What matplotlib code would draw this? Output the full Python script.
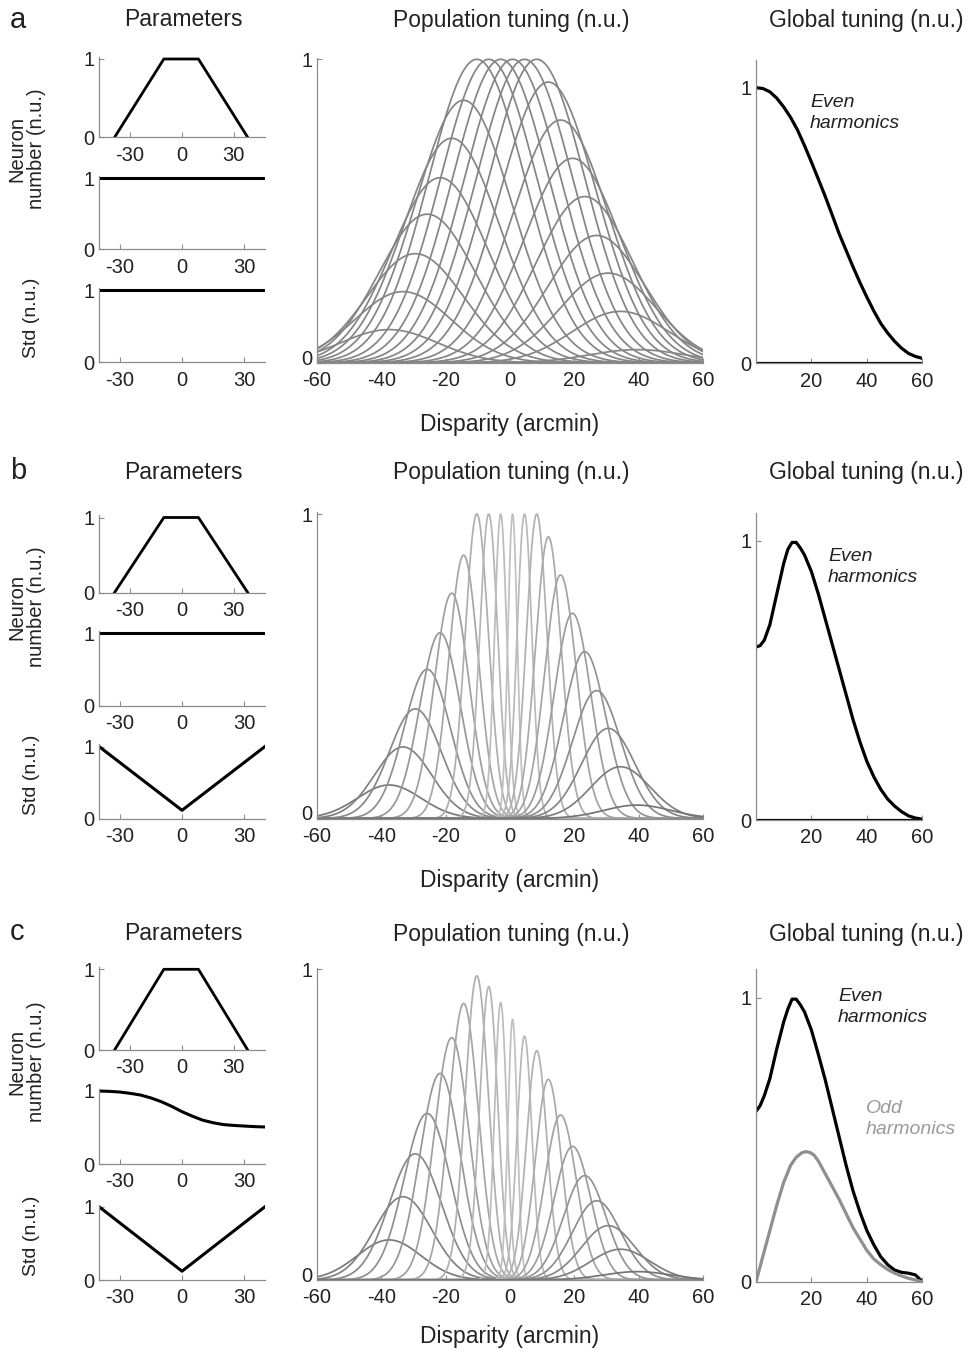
import numpy as np
import matplotlib
matplotlib.use("Agg")
import matplotlib.pyplot as plt
from matplotlib.transforms import ScaledTranslation

plt.rcParams["font.family"] = ["Liberation Sans", "DejaVu Sans"]
plt.rcParams["axes.unicode_minus"] = False

W, H = 974, 1355
SPINE = "#8c8c8c"
TXT = "#222222"

# ---------------- data ----------------
# parameter panels (x in arcmin, y in n.u.)
trap_x = [-39, -10.5, 9.5, 38]
trap_y = [0, 1, 1, 0]
flat_x = [-40, 40]
flat_y = [1, 1]
std_v_x = [-40, 0, 40]
std_v_y = [1, 0.12, 1]
nn_c_x = [-40, -35, -30, -25, -20, -15, -10, -5, 0, 5, 10, 15, 20, 25, 30, 35, 40]
nn_c_y = [1.0, 0.995, 0.986, 0.968, 0.945, 0.905, 0.854, 0.79, 0.717, 0.655,
          0.60, 0.565, 0.54, 0.528, 0.52, 0.512, 0.507]

# population tuning: preferred disparities, peak heights, widths
centers = [-37.5, -33.2, -29.4, -25.7, -21.7, -18.1, -14.4, -10.3, -6.6, -2.9, 0.8,
           4.5, 8.3, 11.9, 15.7, 19.4, 23.2, 26.9, 30.5, 34.3, 39.5]
amp_ab = [0.11, 0.235, 0.36, 0.49, 0.61, 0.74, 0.865, 1, 1, 1, 1,
          1, 1, 0.925, 0.80, 0.674, 0.548, 0.42, 0.296, 0.17, 0.044]
amp_c = [0.129, 0.268, 0.406, 0.536, 0.665, 0.78, 0.89, 0.979, 0.944, 0.893, 0.839,
         0.785, 0.738, 0.646, 0.531, 0.43, 0.336, 0.255, 0.175, 0.099, 0.027]
sigma_a = [15.0] * 21
sigma_bc = [9.9, 8.9, 8.1, 7.2, 6.3, 5.4, 4.6, 3.6, 2.8, 1.9, 1.45,
            2.3, 3.2, 4.0, 4.9, 5.7, 6.6, 7.5, 8.3, 9.2, 10.4]

# global tuning
ga_x = [0, 2.5, 5, 7.5, 10, 12.5, 15, 17.5, 20, 22.5, 25, 27.5, 30, 32.5, 35, 37.5,
        40, 42.5, 45, 47.5, 50, 52.5, 55, 57.5, 60]
even_a = [1.0, 0.997, 0.985, 0.962, 0.93, 0.892, 0.846, 0.79, 0.73, 0.668, 0.605,
          0.538, 0.47, 0.41, 0.35, 0.293, 0.24, 0.19, 0.145, 0.11, 0.08, 0.055,
          0.036, 0.025, 0.018]
odd_a = [0.0, 0.0]
odd_a_x = [0, 60]

gb_x = [0, 1.5, 3, 5, 7.5, 10, 11.5, 13, 14.5, 16, 17.5, 20, 22.5, 25, 27.5, 30,
        32.5, 35, 37.5, 40, 42.5, 45, 47.5, 50, 52.5, 55, 57.5, 60]
even_b = [0.62, 0.625, 0.645, 0.70, 0.81, 0.92, 0.97, 0.995, 0.995, 0.975, 0.95,
          0.89, 0.81, 0.72, 0.63, 0.54, 0.45, 0.36, 0.28, 0.21, 0.155, 0.11, 0.075,
          0.05, 0.03, 0.015, 0.007, 0.003]
odd_b = [0.0, 0.0]
odd_b_x = [0, 60]

gc_x = [0, 1.5, 3, 5, 7.5, 10, 11.5, 13, 14.5, 16, 17.5, 20, 22.5, 25, 27.5, 30,
        32.5, 35, 37.5, 40, 42.5, 45, 47.5, 50, 52.5, 55, 57.5, 60]
even_c = [0.60, 0.62, 0.655, 0.715, 0.82, 0.915, 0.96, 0.995, 0.995, 0.975, 0.95,
          0.886, 0.80, 0.71, 0.61, 0.51, 0.41, 0.32, 0.245, 0.18, 0.13, 0.088, 0.06,
          0.041, 0.033, 0.03, 0.024, 0.0]
gco_x = [0, 2.5, 5, 7.5, 10, 12.5, 14.5, 16.5, 18, 19.5, 21, 22.5, 25, 27.5, 30,
         32.5, 35, 37.5, 40, 42.5, 45, 47.5, 50, 52.5, 55, 57.5, 60]
odd_c = [0.0, 0.09, 0.18, 0.27, 0.35, 0.41, 0.438, 0.454, 0.458, 0.455, 0.445,
         0.425, 0.38, 0.335, 0.29, 0.24, 0.19, 0.15, 0.11, 0.08, 0.06, 0.043, 0.03,
         0.02, 0.012, 0.006, 0.0]

fig = plt.figure(figsize=(W / 100, H / 100), dpi=100)


def place(x_lo, x_hi, y0, y1, ytop):
    """axes box from pixel positions of x-limits and of y=0 / y=1"""
    scale = y0 - y1
    top = y0 - ytop * scale
    return fig.add_axes([x_lo / W, 1 - y0 / H, (x_hi - x_lo) / W, (y0 - top) / H])


def style(ax, xlim, ylim, xticks, yticks=(0, 1)):
    ax.set_xlim(*xlim)
    ax.set_ylim(*ylim)
    for s in ("top", "right"):
        ax.spines[s].set_visible(False)
    for s in ("left", "bottom"):
        ax.spines[s].set_color(SPINE)
        ax.spines[s].set_linewidth(0.9)
    ax.set_xticks(xticks)
    ax.set_yticks(yticks)
    ax.set_yticklabels([str(v) for v in yticks])
    ax.tick_params(direction="in", length=3.5, width=0.8, color=SPINE,
                   labelsize=14.5, labelcolor=TXT)
    ax.tick_params(axis="x", pad=6)
    ax.tick_params(axis="y", pad=3)


def gauss(x, c, a, s):
    return a * np.exp(-(x - c) ** 2 / (2 * s ** 2))


xd = np.linspace(-60, 60, 1201)

rows = [
    dict(letter="a", nn=(flat_x, flat_y), std=(flat_x, flat_y), amp=amp_ab,
         sig=sigma_a, even=(ga_x, even_a), odd=(odd_a_x, odd_a), odd_col="black",
         params=[(137.3, 59), (249.3, 178.3), (362.3, 290)],
         pop=(363, 59.3), glob=(363.3, 87.7), title_y=20, letter_y=20, disp_y=425),
    dict(letter="b", nn=(flat_x, flat_y), std=(std_v_x, std_v_y), amp=amp_ab,
         sig=sigma_bc, even=(gb_x, even_b), odd=(odd_b_x, odd_b), odd_col="black",
         params=[(592.5, 517.5), (705.5, 633), (819, 746.5)],
         pop=(818.5, 514), glob=(820, 541), title_y=473, letter_y=471, disp_y=880),
    dict(letter="c", nn=(nn_c_x, nn_c_y), std=(std_v_x, std_v_y), amp=amp_c,
         sig=sigma_bc, even=(gc_x, even_c), odd=(gco_x, odd_c), odd_col="#8f8f8f",
         params=[(1050, 969.3), (1164, 1091), (1280, 1206.7)],
         pop=(1280, 969.3), glob=(1281.7, 997.7), title_y=934, letter_y=932, disp_y=1337),
]

for r in rows:
    # ---- parameter panels ----
    p1 = place(99, 265, *r["params"][0], 1.03)
    p1.plot(trap_x, trap_y, color="black", lw=2)
    style(p1, (-48, 48), (0, 1.03), [-30, 0, 30])

    p2 = place(99, 265, *r["params"][1], 1.03)
    p2.plot(*r["nn"], color="black", lw=2.2)
    style(p2, (-40, 40), (0, 1.03), [-30, 0, 30])

    p3 = place(99, 265, *r["params"][2], 1.03)
    p3.plot(*r["std"], color="black", lw=2.2)
    style(p3, (-40, 40), (0, 1.03), [-30, 0, 30])

    mid12 = (r["params"][0][1] + r["params"][1][0]) / 2 - 5
    fig.text(27 / W, 1 - mid12 / H, "Neuron\nnumber (n.u.)", rotation=90,
             ha="center", va="center", fontsize=14.5, color=TXT, linespacing=1.05)
    mid3 = (r["params"][2][0] + r["params"][2][1]) / 2 - 8
    fig.text(32 / W, 1 - mid3 / H, "Std (n.u.)", rotation=90,
             ha="center", va="center", fontsize=14, color=TXT)

    # ---- population tuning ----
    pp = place(316.7, 703.3, *r["pop"], 1.005)
    pp.plot(xd, np.zeros_like(xd), color="#8a8a8a", lw=2.2)
    for c, a, s in zip(centers, r["amp"], r["sig"]):
        if r["letter"] == "a":
            g = 0.52
        else:
            g = min(0.76, 0.80 - 0.033 * s)
        pp.plot(xd, gauss(xd, c, a, s), color=(g, g, g), lw=1.25)
    style(pp, (-60, 60), (0, 1.005), [-60, -40, -20, 0, 20, 40, 60])
    # lift the "0" a touch so it clears the "-60" below it
    lab0 = pp.get_yticklabels()[0]
    lab0.set_transform(lab0.get_transform()
                       + ScaledTranslation(0, 4 / 72, fig.dpi_scale_trans))

    # ---- global tuning ----
    gp = place(756, 922.3, *r["glob"], 1.1)
    gp.plot(*r["even"], color="black", lw=2.3, solid_joinstyle="round")
    gp.plot(*r["odd"], color=r["odd_col"], lw=2.3 if r["letter"] == "c" else 1.6,
            solid_joinstyle="round")
    style(gp, (0, 60), (0, 1.1), [20, 40, 60])

    # ---- texts ----
    fig.text(10 / W, 1 - r["letter_y"] / H, r["letter"], fontsize=21, color=TXT,
             ha="left", va="center")
    fig.text(183 / W, 1 - r["title_y"] / H, "Parameters", fontsize=16.5,
             color=TXT, ha="center", va="center")
    fig.text(511 / W, 1 - r["title_y"] / H, "Population tuning (n.u.)",
             fontsize=16.5, color=TXT, ha="center", va="center")
    fig.text(866 / W, 1 - r["title_y"] / H, "Global tuning (n.u.)",
             fontsize=16.5, color=TXT, ha="center", va="center")
    fig.text(510 / W, 1 - r["disp_y"] / H, "Disparity (arcmin)", fontsize=16.5,
             color=TXT, ha="center", va="center")

# harmonic labels
for x, y, s, col in [(810, 113, "Even\nharmonics", TXT),
                     (828, 567, "Even\nharmonics", TXT),
                     (838, 1007, "Even\nharmonics", TXT),
                     (866, 1119, "Odd\nharmonics", "#9a9a9a")]:
    fig.text(x / W, 1 - y / H, s, fontsize=14, style="italic", color=col,
             ha="left", va="center", linespacing=1.3)

fig.savefig("out.png", dpi=100, facecolor="white")
